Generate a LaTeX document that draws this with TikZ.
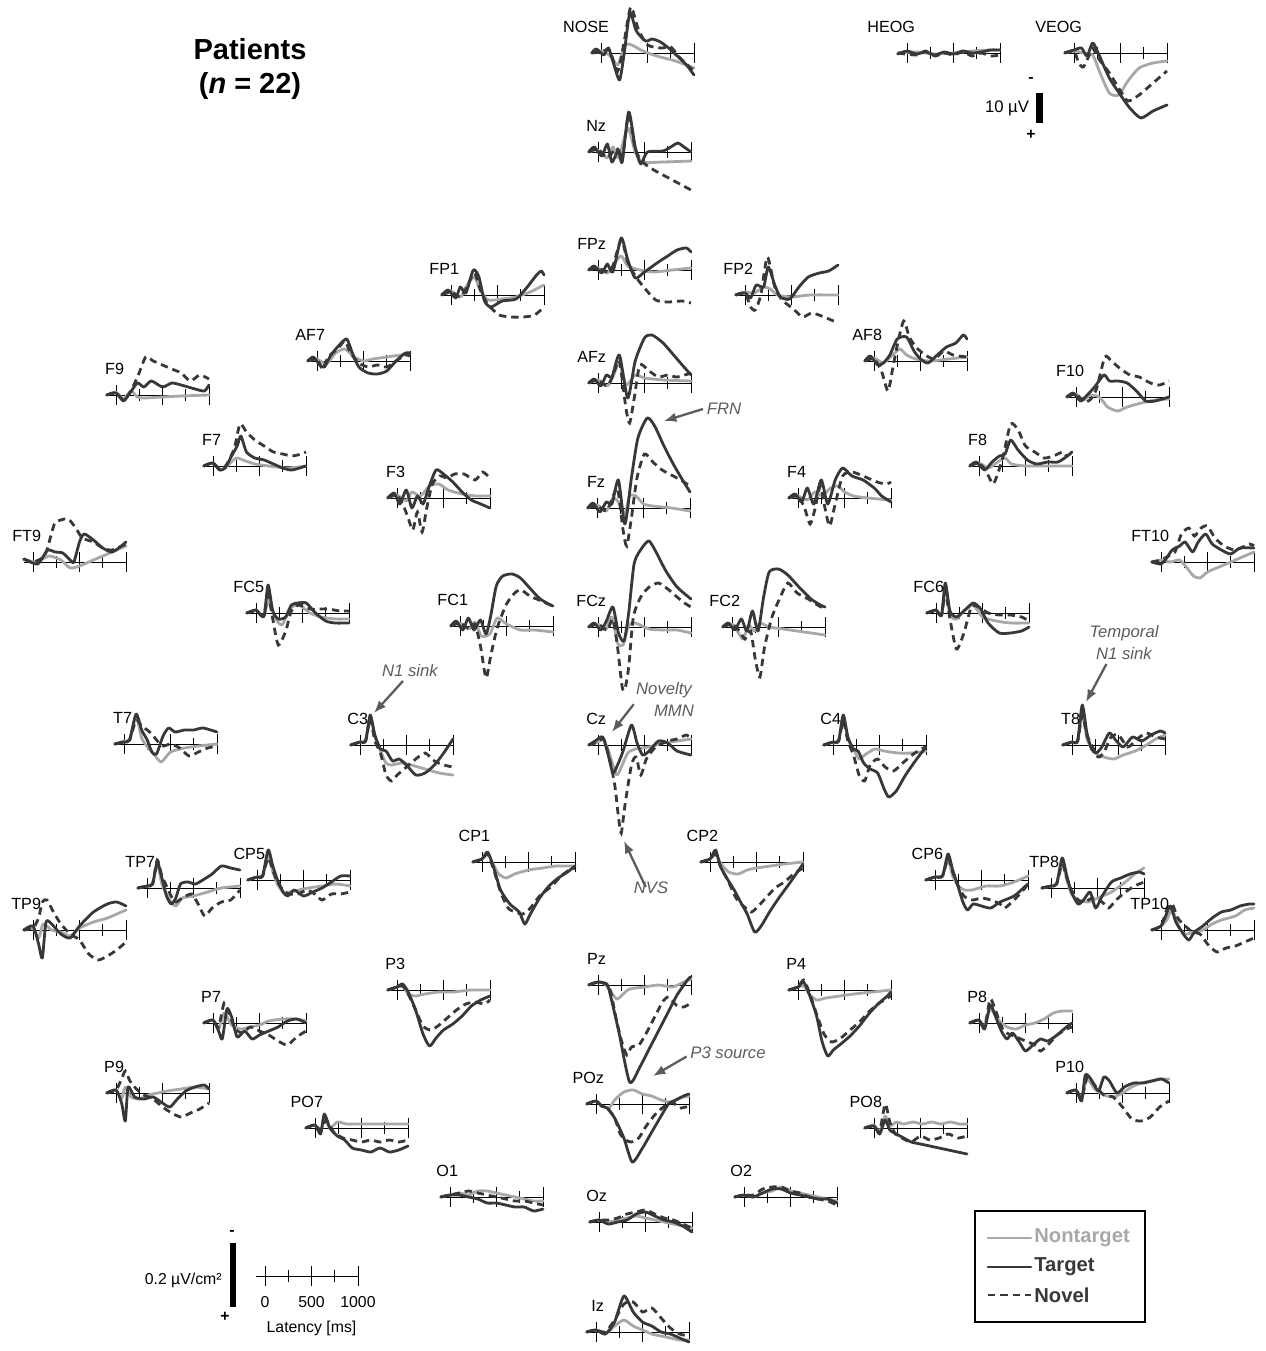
\documentclass[tikz,border=0pt]{standalone}
\usepackage{fontspec}
\setmainfont{Liberation Sans}
\usetikzlibrary{arrows.meta}

\definecolor{dark}{gray}{0.22}
\definecolor{light}{gray}{0.66}
\definecolor{note}{gray}{0.36}

\tikzset{
  axis/.style={black, line width=0.5pt},
  nt/.style={light, line width=1.6pt, line join=round, line cap=round},
  tg/.style={dark, line width=1.6pt, line join=round, line cap=round},
  nv/.style={dark, line width=1.6pt, dash pattern=on 4.2pt off 2.8pt},
  lbl/.style={anchor=east, inner sep=0pt, font=\fontsize{9.2}{10}\selectfont},
  remark/.style={inner sep=0pt, text=note, align=center, font=\fontsize{9.5}{12.5}\selectfont\itshape},
  pointer/.style={note, line width=1.3pt, -{Latex[length=7pt,width=5.5pt]}},
  legendtext/.style={anchor=west, inner sep=0pt, font=\fontsize{11.5}{12}\selectfont\bfseries},
  small/.style={inner sep=0pt, font=\fontsize{9}{10}\selectfont},
}

% one electrode: 0-ms point of the time axis, label, then
% nontarget / target / novel traces as (100 ms, px up)
\newcommand{\erp}[6]{%
  \begin{scope}[shift={(#1,#2)}, x=0.186cm, y=0.02cm]
    \draw[axis] (-1,0) -- (10,0);
    \foreach \tk in {0,5,10} { \draw[axis] (\tk,-10) -- (\tk,10); }
    \foreach \tk in {2.5,7.5} { \draw[axis] (\tk,-6) -- (\tk,6); }
    \draw[nt] plot[smooth,tension=.4] coordinates {#4};
    \draw[nv] plot[smooth,tension=.4] coordinates {#6};
    \draw[tg] plot[smooth,tension=.4] coordinates {#5};
    \node[lbl] (#3) at (0.9,26) {#3};
  \end{scope}}

\begin{document}
\begin{tikzpicture}[x=0.02cm, y=-0.02cm]
  \useasboundingbox (0,0) rectangle (1265,1351);

  \node[align=center, inner sep=0pt, font=\fontsize{16.5}{19.3}\selectfont\bfseries]
    (title) at (250,69) {Patients\\(\textit{n} = 22)};

  % midline
  \erp{601}{53}{NOSE}
    {(-1,0)(0,2)(1,-3)(1.8,-12)(2.6,8)(3.3,8)(4.5,2)(6,-3)(8,-8)(10,-15)}
    {(-1,0)(-0.5,4)(0.3,-2)(0.8,5)(1.4,-12)(2,-27)(2.5,0)(3.1,40)(3.8,22)(4.8,12)(5.5,14)(6.4,11)(7.4,4)(8.2,-3)(9.2,-12)(10,-22)}
    {(-1,0)(0,1)(0.9,3)(1.8,-18)(2.5,12)(3.2,46)(4,24)(5,8)(6.5,5)(7.5,6)(8.5,-5)(10,-18)}
  \erp{598}{152}{Nz}
    {(-1,0)(0,2)(1,-6)(1.6,5)(2.2,-6)(3.2,24)(4,0)(4.8,-10)(7,-10)(10,-9)}
    {(-1,0)(-0.4,5)(0.4,-4)(1,8)(1.5,-10)(2.2,2)(2.6,-10)(3.3,40)(4,5)(4.6,-12)(5.3,0)(7,1)(8,6)(8.6,9)(9.4,4)(10,0)}
    {(-1,0)(0,3)(1,-6)(2,4)(2.6,-8)(3.3,38)(4,3)(4.8,-10)(6,-18)(8,-28)(10,-38)}
  \erp{598}{270}{FPz}
    {(-1,0)(0,2)(1,-3)(1.7,6)(2.5,14)(3.2,4)(4.5,0)(6,-2)(8,0)(10,2)}
    {(-1,0)(-0.4,4)(0.4,-3)(1,6)(1.6,-2)(2.5,32)(3.2,10)(4,-8)(5,-2)(6.5,8)(7.5,14)(8.5,20)(9.5,22)(10,18)}
    {(-1,0)(0,2)(1,-2)(1.6,4)(2.5,30)(3.2,8)(4,-6)(5,-18)(6.2,-30)(7.5,-32)(9,-31)(10,-33)}
  \erp{598}{383}{AFz}
    {(-1,0)(0,3)(1,-3)(1.6,6)(2.3,20)(3,-2)(4,8)(5,5)(7,3)(10,2)}
    {(-1,0)(-0.4,4)(0.3,-3)(0.9,8)(1.5,6)(2.3,28)(3.2,-15)(4,22)(5,45)(5.8,48)(7,40)(8.5,24)(10,8)}
    {(-1,0)(0,3)(1,-3)(1.7,10)(2.3,22)(3,-25)(3.4,-40)(3.9,-15)(4.5,18)(5.5,12)(6.5,6)(7.5,8)(8.5,6)(10,10)}
  \erp{597}{508}{Fz}
    {(-1,0)(0,3)(1,-3)(1.7,10)(2.3,6)(3,-6)(3.5,12)(4.2,12)(5,4)(6,2)(8,0)(10,-3)}
    {(-1,0)(-0.4,5)(0.3,-4)(1,6)(1.6,4)(2.3,28)(3,-16)(3.7,30)(4.4,70)(5.4,90)(6.2,82)(7.2,62)(8.2,44)(9.2,28)(10,16)}
    {(-1,0)(0,2)(1,-3)(1.6,8)(2.2,20)(2.8,-22)(3.2,-38)(3.7,-10)(4.3,30)(5.1,54)(6,46)(7,38)(8.2,32)(9,28)(10,22)}
  \erp{598}{627}{FCz}
    {(-1,0)(0,3)(0.8,-3)(1.5,10)(2.1,-16)(2.7,-18)(3.3,2)(4,4)(5.5,-2)(7,-3)(8.5,-3)(10,-6)}
    {(-1,0)(-0.4,4)(0.3,-3)(0.9,6)(1.6,20)(2.2,-6)(2.8,-14)(3.3,14)(3.9,64)(4.8,80)(5.5,86)(6.3,74)(7.3,56)(8.5,40)(10,28)}
    {(-1,0)(0,3)(1,-3)(1.6,8)(2.1,-20)(2.6,-60)(2.9,-62)(3.3,-40)(3.8,10)(4.6,30)(5.5,40)(6.5,44)(7.5,38)(8.5,30)(9.3,24)(10,20)}
  \erp{598}{745}{Cz}
    {(-1,0)(0,3)(0.6,6)(1.2,-8)(2,-30)(2.6,-20)(3.2,-8)(4,-4)(5.5,-2)(7,2)(8.5,4)(10,6)}
    {(-1,0)(-0.3,4)(0.5,8)(1.1,-10)(1.6,-28)(2.1,-20)(2.7,-6)(3.6,20)(4.2,2)(4.8,-10)(5.5,-6)(6.5,4)(7.5,2)(8.5,-6)(10,-10)}
    {(-1,0)(0,3)(0.6,6)(1.2,-12)(1.8,-40)(2.2,-72)(2.5,-88)(2.9,-60)(3.6,-20)(4.1,-12)(4.6,-30)(5.2,-14)(6.2,-2)(7.5,4)(8.5,6)(9.5,10)(10,6)}
  \erp{598}{985}{Pz}
    {(-1,0)(0,3)(0.6,2)(1.2,-4)(2,-14)(2.6,-10)(3.4,-4)(5,-2)(6.5,0)(8,-2)(9,2)(10,6)}
    {(-1,0)(0,3)(0.6,2)(1.1,-2)(2.2,-45)(3.4,-97)(4.5,-82)(5.5,-64)(6.5,-46)(7.5,-28)(8.5,-10)(9.7,6)(10,8)}
    {(-1,0)(0,3)(1.2,-2)(2,-36)(2.6,-58)(3.1,-70)(3.6,-62)(4.4,-60)(5.2,-48)(6.2,-30)(7,-16)(7.6,-12)(8.4,-20)(9.2,-22)(10,-18)}
  \erp{596}{1104}{POz}
    {(-1,0)(0,3)(0.6,-2)(1.4,-4)(2,4)(3,12)(4,14)(5,10)(6,8)(7,4)(8,2)(9,6)(10,8)}
    {(-1,0)(0,3)(0.6,-2)(1.2,-4)(2,-14)(3,-34)(3.9,-58)(5,-44)(6,-28)(7,-12)(7.8,0)(8.6,4)(9.4,8)(10,10)}
    {(-1,0)(0,3)(0.6,-2)(1.2,-4)(2,-14)(2.6,-30)(3.2,-36)(3.8,-38)(4.6,-34)(5.4,-22)(6.4,-10)(7.4,-2)(8.2,2)(9,-4)(10,-2)}
  \erp{599}{1222}{Oz}
    {(-1,0)(0,2)(1,0)(2,2)(3,4)(4,6)(5,4)(6,2)(7,0)(8,-2)(9,-4)(10,-6)}
    {(-1,0)(0,2)(1,-2)(2,0)(3,2)(4,8)(5,10)(6,6)(7,2)(8,0)(9,-4)(10,-10)}
    {(-1,0)(0,2)(1,2)(2,4)(3,8)(4,10)(5,12)(6,8)(7,4)(8,2)(9,-2)(10,-6)}
  \erp{596}{1332}{Iz}
    {(-1,0)(0,2)(1,-2)(2,6)(3,12)(4,6)(5,2)(6,-2)(7,-4)(8,-6)(9,-8)(10,-8)}
    {(-1,0)(0,2)(1,-2)(2,10)(3,36)(4,20)(5,10)(6,6)(7,0)(8,-2)(9,-6)(10,-10)}
    {(-1,0)(0,2)(1,0)(2,12)(3,28)(4,30)(5,20)(6,24)(7,14)(8,4)(9,-2)(10,-4)}

  % eye channels
  \erp{907}{53}{HEOG}
    {(-1,0)(1,1)(3,-1)(5,0)(7,2)(9,3)(10,3)}
    {(-1,-1)(0,2)(1,-1)(2,1)(3,-2)(4,1)(5,-1)(6,2)(7,0)(8,1)(9,3)(10,3)}
    {(-1,0)(1,-2)(2,2)(3,-3)(4,0)(5,-2)(6,1)(7,-3)(8,0)(9,-3)(10,-2)}
  \erp{1074}{53}{VEOG}
    {(-1,0)(0,2)(1,0)(2,-2)(2.8,-20)(3.8,-40)(4.8,-42)(5.8,-28)(7,-15)(8.5,-10)(10,-8)}
    {(-1,0)(0,3)(0.8,5)(1.4,-3)(2,10)(2.6,0)(3.8,-25)(5,-42)(6,-55)(7.2,-65)(8.5,-58)(10,-52)}
    {(-1,0)(0,2)(0.5,-10)(1,-14)(1.6,-3)(2,5)(2.6,-5)(3.8,-20)(5,-38)(5.8,-48)(7,-42)(8.5,-30)(10,-18)}

  % left hemisphere
  \erp{451}{295}{FP1}
    {(-1,0)(0,4)(1,-2)(1.6,8)(2.5,18)(3.2,4)(4,-5)(5.5,-4)(7,-2)(8.5,3)(10,10)}
    {(-1,0)(-0.3,5)(0.5,-3)(1,8)(1.6,2)(2.4,25)(3,18)(3.6,-6)(4.3,-12)(5.5,-6)(7,-4)(8.2,8)(9.2,20)(9.7,24)(10,20)}
    {(-1,0)(0,3)(1,-2)(1.6,6)(2.5,22)(3.2,4)(4,-10)(5.2,-20)(6.5,-22)(7.8,-22)(9,-20)(10,-12)}
  \erp{317}{361}{AF7}
    {(-1,0)(0,2)(1,-3)(2,8)(3,12)(4,4)(5,0)(6,2)(7.5,4)(9,6)(10,8)}
    {(-1,0)(-0.4,4)(0.3,-4)(0.8,-6)(1.5,6)(2.4,16)(3.2,22)(3.8,8)(4.5,-6)(5.5,-12)(6.5,-13)(7.5,-10)(8.5,0)(9.5,8)(10,8)}
    {(-1,0)(0,2)(0.6,-8)(1.2,4)(2.2,12)(3,20)(3.6,8)(4.5,-2)(5.5,-6)(6.5,-4)(7.5,-6)(8.5,0)(9.5,6)(10,5)}
  \erp{116}{395}{F9}
    {(-1,0)(0,3)(0.8,-4)(1.6,4)(2.3,-2)(3,-3)(5,-2)(7,-1)(10,0)}
    {(-1,0)(0,2)(0.8,-6)(1.5,2)(2.3,12)(3,8)(3.8,14)(5,8)(6,12)(7,10)(8.5,6)(9.5,4)(10,10)}
    {(-1,0)(0,2)(0.8,-5)(1.6,4)(2.4,20)(3.2,38)(4,34)(5,30)(6,26)(7,22)(8,14)(9,20)(10,16)}
  \erp{213}{466}{F7}
    {(-1,0)(0,3)(0.8,-4)(1.5,0)(2.5,8)(3.2,6)(4.5,2)(6,0)(8,-2)(10,0)}
    {(-1,0)(0,3)(0.7,-4)(1.3,-2)(2,10)(2.6,20)(3,30)(3.6,14)(4.5,8)(5.5,6)(6.5,2)(7.5,-2)(8.5,-4)(10,0)}
    {(-1,0)(0,3)(0.8,-4)(1.5,2)(2.3,18)(2.9,42)(3.6,34)(4.5,26)(5.5,20)(6.5,14)(7.5,12)(8.5,10)(9.5,12)(10,14)}
  \erp{397}{498}{F3}
    {(-1,0)(0,3)(1,-3)(1.6,6)(2.5,2)(3.5,12)(4.5,14)(5.5,8)(7,4)(8.5,2)(10,2)}
    {(-1,0)(-0.3,5)(0.3,-6)(1,8)(1.6,-10)(2.2,2)(2.8,-6)(3.4,10)(4.2,28)(5,24)(6,16)(7,6)(8,-2)(9,-6)(10,-10)}
    {(-1,0)(0,3)(0.7,-8)(1.2,-20)(1.7,-32)(2.2,-14)(2.7,-34)(3.2,-10)(3.8,14)(4.6,22)(5.4,20)(6.2,24)(7.2,24)(8.4,18)(9.2,26)(10,20)}
  \erp{33}{562}{FT9}
    {(-1,3)(0,0)(1,3)(1.8,6)(3,2)(4,-6)(5,-4)(6.5,2)(8,8)(10,16)}
    {(-1,3)(-0.3,0)(0.5,-2)(1,4)(1.6,12)(2.4,10)(3.2,9)(4,2)(4.4,0)(5,20)(5.5,28)(6.5,22)(7.5,14)(8.5,10)(9.5,16)(10,20)}
    {(-1,3)(0,0)(1,4)(1.5,12)(2.3,38)(3,42)(3.8,43)(4.6,34)(5.3,24)(6.5,20)(7.5,14)(8.5,12)(10,18)}
  \erp{256}{613}{FC5}
    {(-1,0)(0,3)(0.8,-4)(1.4,14)(2,-4)(2.8,-12)(3.6,4)(4.6,8)(5.8,0)(7,-4)(8.5,-6)(10,-6)}
    {(-1,0)(0,3)(0.5,-2)(0.9,-2)(1.3,28)(1.8,2)(2.4,-6)(3.2,-4)(3.8,8)(4.5,10)(5.4,10)(6.4,0)(7.5,-8)(8.5,-10)(10,-10)}
    {(-1,0)(0,2)(0.8,-3)(1.3,18)(1.8,-6)(2.4,-32)(3.2,-18)(3.8,2)(4.6,8)(5.8,4)(6.8,4)(7.8,4)(9,2)(10,2)}
  \erp{460}{626}{FC1}
    {(-1,0)(0,3)(1,-3)(1.6,4)(2.3,-10)(3.2,-8)(4,8)(5,2)(6.5,-4)(8,-4)(10,-6)}
    {(-1,0)(-0.4,5)(0.3,-4)(0.9,8)(1.5,-4)(2.2,6)(2.8,-8)(3.3,10)(3.9,40)(4.6,50)(5.6,52)(6.5,48)(7.5,38)(8.5,28)(9.5,22)(10,20)}
    {(-1,0)(0,3)(1,-3)(1.6,2)(2.2,-20)(2.8,-52)(3.3,-30)(4,-2)(5,22)(6,34)(6.6,36)(7.5,30)(8.5,26)(10,20)}
  \erp{124}{744}{T7}
    {(-1,0)(0,3)(0.6,4)(1.3,28)(1.9,6)(2.6,-4)(3.2,-10)(4,-18)(5,-8)(6.5,-4)(8,-2)(10,0)}
    {(-1,0)(0,2)(0.6,4)(1.3,30)(1.9,14)(2.5,4)(3,-8)(3.5,-10)(4.2,8)(4.8,16)(5.5,12)(6.5,14)(7.5,14)(8.5,16)(10,12)}
    {(-1,0)(0,2)(0.6,4)(1.3,24)(1.9,18)(2.5,14)(3,10)(3.5,4)(4.2,-2)(5,0)(6,-4)(7,-12)(8,-8)(9,-4)(10,-2)}
  \erp{360}{745}{C3}
    {(-1,0)(0,3)(0.6,4)(1.1,28)(1.6,8)(2.2,-6)(2.8,-18)(3.4,-20)(4.5,-18)(5.5,-20)(7,-24)(8.5,-28)(10,-30)}
    {(-1,0)(0,3)(0.6,4)(1.1,30)(1.6,10)(2.2,-4)(2.8,-6)(3.5,-16)(4.2,-14)(5,-20)(6,-30)(7,-28)(8,-20)(9,-8)(10,6)}
    {(-1,0)(0,3)(0.6,4)(1.1,26)(1.6,4)(2.2,-8)(2.8,-30)(3.4,-36)(4,-30)(5,-22)(6,-14)(7,-8)(8,-16)(9,-20)(10,-22)}
  \erp{147}{888}{TP7}
    {(-1,0)(0,2)(0.6,4)(1.1,24)(1.6,4)(2.1,-6)(2.6,-14)(3.1,-18)(3.8,-10)(5,-8)(6.5,-4)(8,0)(10,2)}
    {(-1,0)(0,2)(0.6,4)(1.1,26)(1.6,10)(2.1,-8)(2.6,-16)(3.1,-10)(3.6,4)(4.4,6)(5.2,4)(6,8)(7,14)(8,22)(9,20)(10,18)}
    {(-1,0)(0,2)(0.6,4)(1.1,28)(1.6,12)(2.1,2)(2.6,-8)(3.1,-14)(3.8,-10)(4.8,-6)(5.5,-16)(6.2,-28)(7,-20)(8,-14)(9,-12)(10,-2)}
  \erp{257}{880}{CP5}
    {(-1,0)(0,3)(0.6,4)(1.2,24)(1.7,8)(2.2,-4)(2.8,-12)(3.5,-12)(4.5,-10)(5.5,-8)(7,-6)(8.5,-4)(10,-6)}
    {(-1,0)(0,3)(0.6,4)(1.2,30)(1.7,14)(2.2,0)(2.8,-12)(3.3,-16)(4,-10)(5,-16)(6,-12)(7,-8)(8,-2)(9,4)(10,4)}
    {(-1,0)(0,3)(0.6,4)(1.2,22)(1.7,10)(2.2,-2)(2.8,-10)(3.4,-14)(4.4,-14)(5.4,-10)(6.2,-14)(7,-20)(8,-14)(9,-14)(10,-12)}
  \erp{482}{862}{CP1}
    {(-1,0)(0,3)(0.6,8)(1.2,-2)(1.8,-12)(2.6,-16)(3.5,-12)(5,-8)(6.5,-6)(8,-4)(10,-4)}
    {(-1,0)(0,3)(0.6,10)(1.2,-4)(2,-28)(3,-42)(4,-50)(4.6,-62)(5.2,-52)(6.2,-36)(7.2,-24)(8.2,-16)(9.2,-10)(10,-4)}
    {(-1,0)(0,3)(0.6,8)(1.2,-6)(2,-30)(2.8,-46)(3.6,-50)(4.4,-52)(5.2,-46)(6.2,-34)(7.5,-24)(8.5,-14)(9.4,-8)(10,-6)}
  \erp{33}{930}{TP9}
    {(-1,0)(0,2)(0.6,-8)(1.1,6)(2,0)(3,-2)(4,-6)(5,2)(6.5,8)(8,12)(10,20)}
    {(-1,0)(0,4)(0.6,-14)(1,-28)(1.4,8)(2,6)(3,-4)(4,-8)(5,4)(6.5,18)(8,26)(9,28)(10,24)}
    {(-1,0)(0,2)(0.6,12)(1,28)(1.5,30)(2.2,18)(3,6)(4,-4)(5,-10)(6,-24)(7,-30)(8,-26)(9,-20)(10,-12)}
  \erp{397}{990}{P3}
    {(-1,0)(0,3)(0.6,4)(1.2,-4)(2,-6)(3,-4)(4.5,-2)(6,-2)(8,0)(10,0)}
    {(-1,0)(0,3)(0.6,6)(1.2,-2)(2,-20)(2.8,-44)(3.5,-56)(4.2,-48)(5,-40)(6,-34)(7,-26)(8,-16)(9,-10)(10,-6)}
    {(-1,0)(0,3)(0.6,4)(1.2,-4)(2,-20)(2.8,-36)(3.6,-40)(4.4,-36)(5.4,-28)(6.4,-20)(7.4,-14)(8.4,-12)(9.4,-14)(10,-10)}
  \erp{213}{1023}{P7}
    {(-1,0)(0,3)(0.6,-6)(1.2,10)(2,-2)(3,-6)(4,-4)(5,-2)(6,2)(7.5,4)(9,4)(10,2)}
    {(-1,0)(0,3)(0.6,-8)(1,-16)(1.5,14)(2,6)(2.6,-14)(3.4,-8)(4.2,-16)(5,-12)(6,-8)(7,-4)(8,2)(9,4)(10,0)}
    {(-1,0)(0,3)(0.6,-4)(1.2,20)(1.8,8)(2.4,-6)(3.2,-10)(4,-4)(5,-8)(6,-12)(7,-18)(8,-22)(9,-14)(10,-8)}
  \erp{116}{1093}{P9}
    {(-1,0)(0,3)(0.6,-6)(1,6)(1.6,-4)(2.5,-6)(3.5,-2)(4.5,0)(5.5,2)(7,4)(8.5,6)(10,4)}
    {(-1,0)(0,3)(0.6,-10)(1,-28)(1.3,6)(2,-4)(3,-6)(4,-4)(5,-10)(5.8,-14)(6.6,-6)(7.5,2)(8.5,6)(9.5,8)(10,4)}
    {(-1,0)(0,3)(0.6,14)(1,22)(1.5,12)(2.2,4)(3,-2)(4,-6)(5,-14)(6,-20)(7,-24)(8,-20)(9,-16)(10,-10)}
  \erp{315}{1128}{PO7}
    {(-1,0)(0,3)(0.6,-4)(1,10)(1.6,0)(2.4,6)(3.4,4)(4.5,4)(6,4)(7.5,4)(9,4)(10,4)}
    {(-1,0)(0,3)(0.6,-6)(1,14)(1.6,0)(2.4,-8)(3.2,-12)(4,-20)(5,-22)(6,-24)(7,-20)(8,-24)(9,-22)(10,-18)}
    {(-1,0)(0,3)(0.6,-2)(1.2,8)(2,-4)(3,-10)(4,-12)(5,-14)(6,-12)(7,-14)(8,-12)(9,-14)(10,-12)}
  \erp{450}{1197}{O1}
    {(-1,0)(0,2)(1,4)(2,2)(3,6)(4,6)(5,4)(6,2)(7,0)(8,-2)(9,-4)(10,-4)}
    {(-1,0)(0,2)(1,2)(2,0)(3,-2)(4,-6)(5,-6)(6,-8)(7,-10)(8,-10)(9,-14)(10,-12)}
    {(-1,0)(0,2)(1,4)(2,6)(3,4)(4,2)(5,0)(6,-2)(7,-4)(8,-4)(9,-6)(10,-8)}

  % right hemisphere
  \erp{745}{295}{FP2}
    {(-1,0)(0,3)(1,2)(2,8)(2.7,6)(3.5,0)(5,-2)(7,0)(10,0)}
    {(-1,0)(0,2)(0.6,-3)(1.2,10)(2,8)(2.5,28)(3.2,10)(3.8,-2)(4.8,-4)(5.8,8)(6.8,18)(8,22)(9,24)(10,30)}
    {(-1,0)(0,2)(0.6,-12)(1.1,-15)(1.7,0)(2.4,38)(3.2,8)(4,-5)(5.2,-14)(6.2,-22)(7.2,-18)(8.5,-22)(10,-28)}
  \erp{874}{361}{AF8}
    {(-1,0)(0,3)(1,-2)(2,6)(2.8,12)(3.5,6)(4.5,2)(6,0)(8,2)(10,4)}
    {(-1,0)(-0.4,5)(0.4,-4)(1,-2)(1.7,6)(2.5,22)(3.5,24)(4.3,10)(5,2)(5.8,-2)(6.8,6)(7.8,14)(8.8,18)(9.6,26)(10,22)}
    {(-1,0)(0,2)(0.8,-10)(1.5,-30)(2,-8)(2.6,20)(3.2,40)(3.8,24)(4.5,14)(5.5,6)(6.5,2)(7.5,10)(8.5,6)(10,4)}
  \erp{1076}{397}{F10}
    {(-1,0)(0,3)(0.8,-3)(1.5,2)(2.5,0)(3.4,-10)(4.5,-14)(5.5,-10)(7,-6)(8.5,-3)(10,-2)}
    {(-1,0)(-0.3,4)(0.5,-4)(1.2,2)(2,10)(3,22)(3.6,16)(4.5,16)(5.5,14)(6.5,6)(7.5,-4)(8.5,-4)(10,0)}
    {(-1,0)(0,3)(0.8,-5)(1.5,-3)(2.2,8)(3.1,40)(3.8,36)(4.8,28)(5.8,22)(6.8,20)(8,14)(9,12)(10,16)}
  \erp{979}{466}{F8}
    {(-1,0)(0,3)(1,-2)(2,4)(2.8,8)(3.5,2)(5,0)(7,0)(10,0)}
    {(-1,0)(-0.3,4)(0.6,-4)(1.4,4)(2.2,10)(2.8,12)(3.4,26)(4.2,16)(5.2,6)(6.2,2)(7.4,4)(8.5,4)(9.5,10)(10,14)}
    {(-1,0)(0,3)(0.8,-6)(1.5,-18)(2,-8)(2.6,10)(3.4,42)(4.2,36)(5,20)(6,14)(7,8)(8,10)(9,14)(9.4,10)}
  \erp{798}{498}{F4}
    {(-1,0)(0,2)(1,-2)(1.8,6)(2.6,2)(3.5,10)(4.3,12)(5,6)(6,2)(7.5,0)(10,-2)}
    {(-1,0)(-0.3,4)(0.4,-4)(1,10)(1.7,-6)(2.5,18)(3.2,-6)(4,18)(4.8,30)(5.8,22)(7,18)(8.2,10)(9,2)(10,-4)}
    {(-1,0)(0,2)(0.7,-10)(1.3,-26)(1.8,-12)(2.4,12)(2.9,-10)(3.4,-28)(4,-6)(4.8,22)(5.8,26)(7,22)(8.5,16)(9.5,14)(10,16)}
  \erp{1161}{562}{FT10}
    {(-1,0)(0,2)(1,0)(2,2)(2.8,-6)(3.5,-14)(4.2,-16)(5,-10)(6.5,-4)(8,2)(9,6)(10,10)}
    {(-1,0)(0,-2)(0.6,4)(1.2,12)(2,16)(2.6,20)(3.4,10)(4,20)(4.8,28)(5.5,18)(6.5,12)(7.5,8)(8.5,14)(10,14)}
    {(-1,0)(0,2)(0.8,6)(1.5,10)(2.2,28)(3,34)(3.6,26)(4.3,34)(5,36)(5.8,24)(6.8,16)(8,12)(9.5,18)(10,16)}
  \erp{732}{627}{FC2}
    {(-1,0)(0,3)(0.7,-6)(1.2,-12)(1.8,2)(2.4,-4)(3,4)(4,0)(5.5,-2)(7,-4)(8.5,-6)(10,-8)}
    {(-1,0)(-0.4,4)(0.3,-3)(1,8)(1.6,-4)(2.2,16)(2.8,-4)(3.4,30)(4,55)(5,58)(6,52)(7.2,40)(8.5,28)(9.5,22)(10,20)}
    {(-1,0)(0,3)(0.8,-4)(1.4,-12)(2,-4)(2.5,-32)(3,-50)(3.5,-20)(4.3,10)(5.2,30)(6,44)(7,34)(8.2,28)(9.2,22)(10,18)}
  \erp{936}{613}{FC6}
    {(-1,0)(0,3)(0.6,-3)(1,26)(1.5,-2)(2.2,-6)(3,2)(4,8)(5,-4)(6.5,-8)(8,-10)(10,-10)}
    {(-1,0)(0,3)(0.6,-2)(1,30)(1.5,2)(2.2,-4)(3,2)(4,10)(4.8,4)(5.6,-10)(6.8,-20)(8,-20)(9.2,-18)(10,-14)}
    {(-1,0)(0,2)(0.6,-2)(1,22)(1.5,-6)(2.2,-36)(3,-20)(3.8,6)(4.6,6)(5.6,0)(6.8,-2)(8,-2)(9.2,-4)(10,-8)}
  \erp{833}{745}{C4}
    {(-1,0)(0,3)(0.6,4)(1.1,28)(1.6,6)(2.2,-4)(2.8,-14)(3.4,-10)(4.5,-4)(5.5,-6)(7,-8)(8.5,-8)(10,-6)}
    {(-1,0)(0,3)(0.6,4)(1.1,30)(1.6,8)(2.2,-4)(2.7,-6)(3.3,-18)(4,-24)(4.8,-28)(5.5,-44)(6,-52)(6.8,-46)(7.8,-30)(9,-14)(10,-2)}
    {(-1,0)(0,3)(0.6,4)(1.1,24)(1.6,4)(2.2,-10)(2.8,-30)(3.4,-36)(4,-20)(4.8,-14)(5.6,-22)(6.5,-26)(7.5,-18)(8.5,-10)(9.5,-4)(10,-2)}
  \erp{1072}{745}{T8}
    {(-1,0)(0,3)(0.6,4)(1.1,32)(1.6,6)(2.2,-4)(2.8,-10)(3.4,-12)(4.5,-14)(5.5,-10)(6.8,-6)(8,0)(9,6)(10,10)}
    {(-1,0)(0,3)(0.6,4)(1.1,40)(1.6,12)(2.1,-4)(2.6,-8)(3.2,-2)(4,12)(4.6,6)(5.5,-2)(6.5,8)(7.5,4)(8.5,10)(9.5,14)(10,12)}
    {(-1,0)(0,3)(0.6,4)(1.1,30)(1.6,10)(2.2,-2)(2.8,-12)(3.4,-8)(4.2,8)(5,10)(6,-2)(7,6)(8,12)(9,8)(10,6)}
  \erp{710}{862}{CP2}
    {(-1,0)(0,3)(0.6,8)(1.2,-2)(2,-10)(3,-12)(4,-8)(5,-6)(6.5,-4)(8,-2)(10,0)}
    {(-1,0)(0,3)(0.6,12)(1.1,-4)(1.8,-16)(2.6,-28)(3.4,-42)(4,-52)(4.8,-70)(5.5,-64)(6.4,-50)(7.4,-36)(8.5,-22)(9.4,-10)(10,-2)}
    {(-1,0)(0,3)(0.6,8)(1.2,-6)(2,-20)(2.8,-36)(3.6,-44)(4.4,-50)(5,-46)(6,-36)(7,-26)(8,-20)(9,-12)(10,-6)}
  \erp{935}{880}{CP6}
    {(-1,0)(0,3)(0.8,4)(1.4,20)(1.9,4)(2.5,-6)(3.2,-10)(4,-10)(5.5,-6)(7,-6)(8.5,-2)(10,4)}
    {(-1,0)(0,3)(0.8,4)(1.4,26)(1.9,10)(2.4,-4)(3,-22)(3.5,-30)(4.1,-24)(5,-26)(6,-28)(7,-22)(8.5,-16)(9.5,-8)(10,-4)}
    {(-1,0)(0,3)(0.8,4)(1.4,22)(1.9,8)(2.4,-4)(3.1,-16)(4,-20)(5,-18)(6,-20)(7,-24)(7.5,-28)(8.5,-20)(9.5,-10)(10,-4)}
  \erp{1051}{888}{TP8}
    {(-1,0)(0,2)(0.6,4)(1.2,26)(1.7,8)(2.2,-6)(3,-12)(4,-14)(5,-10)(6.5,-4)(8,6)(9,14)(10,20)}
    {(-1,0)(0,2)(0.6,4)(1.2,30)(1.7,12)(2.2,-4)(2.9,-16)(3.5,-12)(4.2,-4)(4.8,-20)(5.5,-8)(6.5,6)(7.5,10)(8.5,14)(9.5,16)(10,14)}
    {(-1,0)(0,2)(0.6,4)(1.2,24)(1.7,10)(2.2,-2)(2.9,-12)(3.6,-14)(4.5,-10)(5.5,-14)(6.2,-20)(7,-12)(8,-4)(9,2)(10,6)}
  \erp{1161}{930}{TP10}
    {(-1,0)(0,4)(0.6,10)(1.2,20)(1.8,6)(2.5,-4)(3.5,-2)(4.5,0)(5.5,6)(6.5,10)(8,14)(9,20)(10,22)}
    {(-1,0)(0,4)(0.5,14)(1,24)(1.6,8)(2.4,-4)(3,-10)(3.6,-2)(4.5,4)(5.5,12)(6.5,18)(7.5,20)(8.5,24)(9.5,26)(10,26)}
    {(-1,0)(0,4)(0.6,20)(1.2,26)(1.8,12)(2.6,4)(3.4,-2)(4.2,-4)(5,-14)(6,-22)(7,-18)(8,-16)(9,-12)(10,-8)}
  \erp{798}{990}{P4}
    {(-1,0)(0,3)(0.6,4)(1.2,-4)(2,-10)(3,-8)(4.5,-6)(6,-4)(8,-2)(10,0)}
    {(-1,0)(0,3)(0.6,8)(1.2,-4)(2,-26)(2.6,-52)(3.2,-66)(3.8,-60)(4.6,-54)(5.6,-46)(6.6,-36)(7.6,-24)(8.6,-14)(9.6,-6)(10,-2)}
    {(-1,0)(0,3)(0.6,10)(1.2,-2)(2,-24)(2.8,-44)(3.6,-52)(4.6,-48)(5.6,-40)(6.6,-32)(7.6,-22)(8.6,-14)(9.6,-8)(10,-6)}
  \erp{979}{1023}{P8}
    {(-1,0)(0,3)(0.6,-4)(1.2,14)(2,4)(3,-4)(4,-6)(5,-2)(6,0)(7,4)(8,10)(9,12)(10,12)}
    {(-1,0)(0,3)(0.6,-6)(1.2,18)(1.8,6)(2.4,-8)(3,-16)(3.6,-10)(4.4,-20)(5,-28)(5.8,-22)(6.6,-16)(7.4,-18)(8.4,-12)(9.4,-4)(10,0)}
    {(-1,0)(0,3)(0.6,-4)(1.2,24)(1.8,12)(2.4,-4)(3,-10)(4,-14)(5,-18)(6,-22)(6.6,-28)(7.4,-22)(8.4,-12)(9.4,-6)(10,-4)}
  \erp{1076}{1093}{P10}
    {(-1,0)(0,3)(0.6,-4)(1.2,14)(2,4)(3,-2)(4,-4)(5,0)(6,6)(7,10)(8,12)(9,14)(10,14)}
    {(-1,0)(0,3)(0.6,-8)(1,18)(1.6,14)(2.4,2)(3,16)(3.6,12)(4.4,0)(5.2,6)(6.2,10)(7.2,10)(8.2,12)(9.2,14)(10,10)}
    {(-1,0)(0,3)(0.6,-6)(1.2,16)(2,8)(3,-2)(4,-4)(5,-14)(6,-26)(7,-28)(8,-24)(9,-14)(10,-8)}
  \erp{874}{1128}{PO8}
    {(-1,0)(0,3)(0.6,-4)(1.2,12)(1.7,2)(2.4,6)(3.2,4)(4.2,6)(5.2,4)(6.2,6)(7.2,4)(8.2,6)(9.2,4)(10,4)}
    {(-1,0)(0,2)(0.6,-6)(1.2,8)(1.7,-2)(2.4,-6)(3.2,-10)(4,-14)(5,-16)(6,-18)(7,-20)(8,-22)(9,-24)(10,-26)}
    {(-1,0)(0,2)(0.6,-4)(1.2,24)(1.7,6)(2.3,-6)(3,-10)(4,-14)(5,-8)(6,-12)(7,-10)(8,-6)(9,-10)(10,-8)}
  \erp{744}{1197}{O2}
    {(-1,0)(0,2)(1,0)(2,4)(3,6)(4,10)(5,6)(6,4)(7,2)(8,0)(9,-2)(10,-4)}
    {(-1,0)(0,2)(1,0)(2,4)(3,8)(4,8)(5,4)(6,2)(7,0)(8,-2)(9,-2)(10,-6)}
    {(-1,0)(0,2)(1,2)(2,8)(3,10)(4,10)(5,6)(6,4)(7,0)(8,-2)(9,-4)(10,-8)}

  % annotations
  \node[remark] (frn) at (724,409) {FRN};
  \coordinate (frn-tip) at (664,421);
  \draw[pointer] ([xshift=-2pt]frn.west) -- (frn-tip);
  \node[remark] (n1l) at (410,671) {N1 sink};
  \coordinate (n1l-tip) at (374,713);
  \draw[pointer] ([xshift=-4pt,yshift=-2pt]n1l.south) -- (n1l-tip);
  \node[remark] (mmn) at (664,699) {Novelty\\\hspace*{1.2em}MMN};
  \coordinate (mmn-tip) at (612,732);
  \draw[pointer] ([yshift=-3pt]mmn.west) -- (mmn-tip);
  \node[remark] (nvs) at (651,888) {NVS};
  \coordinate (nvs-tip) at (624,841);
  \draw[pointer] ([xshift=-3pt,yshift=-3pt]nvs.north) -- (nvs-tip);
  \node[remark] (tn1) at (1124,643) {Temporal\\N1 sink};
  \coordinate (tn1-tip) at (1086,702);
  \draw[pointer] ([xshift=-10pt,yshift=-2pt]tn1.south) -- (tn1-tip);
  \node[remark] (p3s) at (728,1053) {P3 source};
  \coordinate (p3s-tip) at (653,1076);
  \draw[pointer] ([xshift=-2pt,yshift=-2pt]p3s.west) -- (p3s-tip);

  % EOG scale
  \draw[line width=0.14cm] (1039,93) -- (1039,123);
  \node[small, font=\fontsize{9}{10}\selectfont\bfseries] (eog-m) at (1031,80) {-};
  \node[small, font=\fontsize{9}{10}\selectfont\bfseries] (eog-p) at (1031,135) {+};
  \node[small, font=\fontsize{9.5}{10}\selectfont] (eog-s) at (1007,108) {10 µV};

  % CSD and time scales
  \draw[line width=0.12cm] (233,1243) -- (233,1307);
  \node[small, font=\fontsize{9}{10}\selectfont\bfseries] (csd-m) at (232,1233) {-};
  \node[small, font=\fontsize{9}{10}\selectfont\bfseries] (csd-p) at (225,1317) {+};
  \node[small, anchor=east] (csd-s) at (222,1280) {0.2 µV/cm²};
  \begin{scope}[shift={(265,1276)}, x=0.186cm, y=0.02cm]
    \draw[axis] (-1,0) -- (10,0);
    \foreach \tk in {0,5,10} { \draw[axis] (\tk,-10) -- (\tk,10); }
    \foreach \tk in {2.5,7.5} { \draw[axis] (\tk,-6) -- (\tk,6); }
    \node[small] (ms0) at (0,-26) {0};
    \node[small] (ms500) at (5,-26) {500};
    \node[small] (ms1000) at (10,-26) {1000};
    \node[small] (lat) at (5,-52) {Latency [ms]};
  \end{scope}

  % legend
  \draw[line width=1.2pt] (975,1211) rectangle (1145,1322);
  \draw[nt] (988,1238) -- (1031,1238);
  \draw[tg] (988,1267) -- (1031,1267);
  \draw[nv] (988,1295) -- (1031,1295);
  \node[legendtext, text=light] (lg-nt) at (1034,1238) {Nontarget};
  \node[legendtext, text=dark] (lg-tg) at (1034,1267) {Target};
  \node[legendtext, text=dark] (lg-nv) at (1034,1295) {Novel};
\end{tikzpicture}
\end{document}
